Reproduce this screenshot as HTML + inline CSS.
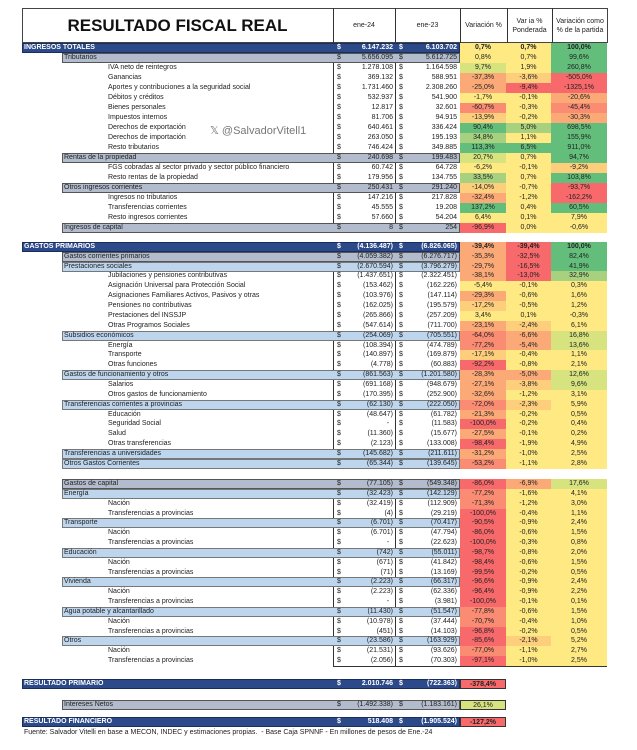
<!DOCTYPE html>
<html><head><meta charset="utf-8"><style>
body{margin:0;background:#fff;width:637px;height:750px;overflow:hidden;position:relative;font-family:"Liberation Sans",sans-serif;color:#222}
.r{position:absolute;left:0;width:637px;height:10px;font-size:7px;line-height:10px;white-space:nowrap}
.r span{position:absolute;top:0;height:10px}
.l0{left:24px}.l1{left:64px}.l2{left:108px}
.d1{left:337px}.a{right:244px;text-align:right}.d2{left:399px}.b{right:180px;text-align:right}
.p1{left:460px;width:46px;text-align:center}.p2{left:506px;width:45px;text-align:center}.p3{left:551px;width:56px;text-align:center}
.bg0{left:22px;width:438px;background:#2c4a8a;border:1px solid #1a2e5c;box-sizing:border-box}
.bg1{left:62px;width:398px;background:#b3bccd;border:1px solid #555;box-sizing:border-box}
.bg2{left:62px;width:398px;background:#bdd6ee;border:1px solid #777;box-sizing:border-box}
.w{color:#fff;font-weight:bold}
.g{background:#63be7b}.lg{background:#a8d17f}.gy{background:#d6e37f}.y{background:#fee983}.yo{background:#fdcf7d}.o{background:#fbaa77}.ro{background:#f98c72}.rd{background:#f8696b}
.vl{position:absolute;width:1px;background:#333}
.hb{position:absolute;left:22px;top:8px;width:586px;height:35px;border:1px solid #444;box-sizing:border-box}
.hd{position:absolute;top:8px;height:35px;font-size:7px;display:flex;align-items:center;justify-content:center;text-align:center;line-height:9px}
</style></head><body>
<div class="hb"></div>
<div style="position:absolute;left:22px;top:8px;width:311px;height:35px;display:flex;align-items:center;justify-content:center;font-size:17px;font-weight:bold;color:#111">RESULTADO FISCAL REAL</div>
<div class="hd" style="left:333px;width:62px">ene-24</div>
<div class="hd" style="left:395px;width:65px">ene-23</div>
<div class="hd" style="left:460px;width:47px">Variación %</div>
<div class="hd" style="left:507px;width:45px">Var ia %<br>Ponderada</div>
<div class="hd" style="left:552px;width:56px">Variación como<br>% de la partida</div>
<div class="vl" style="left:333px;top:8px;height:225px"></div>
<div class="vl" style="left:395px;top:8px;height:225px"></div>
<div class="vl" style="left:460px;top:8px;height:225px"></div>
<div class="vl" style="left:507px;top:8px;height:35px"></div>
<div class="vl" style="left:552px;top:8px;height:35px"></div>
<div class="vl" style="left:333px;top:242px;height:227px"></div>
<div class="vl" style="left:395px;top:242px;height:227px"></div>
<div class="vl" style="left:460px;top:242px;height:227px"></div>
<div class="vl" style="left:333px;top:479px;height:187px"></div>
<div class="vl" style="left:395px;top:479px;height:187px"></div>
<div class="vl" style="left:460px;top:479px;height:187px"></div>
<div style="position:absolute;left:210px;top:124px;font-size:11px;color:#777">𝕏 @SalvadorVitell1</div>

<div class="r" style="top:43px"><span class="bg0"></span><span class="l0 w">INGRESOS TOTALES</span><span class="d1 w">$</span><span class="a w">6.147.232</span><span class="d2 w">$</span><span class="b w">6.103.702</span><span class="p1 y"><b>0,7%</b></span><span class="p2 y"><b>0,7%</b></span><span class="p3 g"><b>100,0%</b></span></div>
<div class="r" style="top:53px"><span class="bg1"></span><span class="l1">Tributarios</span><span class="d1">$</span><span class="a">5.656.095</span><span class="d2">$</span><span class="b">5.612.725</span><span class="p1 y">0,8%</span><span class="p2 y">0,7%</span><span class="p3 g">99,6%</span></div>
<div class="r" style="top:63px"><span class="l2">IVA neto de reintegros</span><span class="d1">$</span><span class="a">1.278.108</span><span class="d2">$</span><span class="b">1.164.598</span><span class="p1 gy">9,7%</span><span class="p2 y">1,9%</span><span class="p3 g">260,8%</span></div>
<div class="r" style="top:73px"><span class="l2">Ganancias</span><span class="d1">$</span><span class="a">369.132</span><span class="d2">$</span><span class="b">588.951</span><span class="p1 o">-37,3%</span><span class="p2 yo">-3,6%</span><span class="p3 rd">-505,0%</span></div>
<div class="r" style="top:83px"><span class="l2">Aportes y contribuciones a la seguridad social</span><span class="d1">$</span><span class="a">1.731.460</span><span class="d2">$</span><span class="b">2.308.260</span><span class="p1 o">-25,0%</span><span class="p2 rd">-9,4%</span><span class="p3 rd">-1325,1%</span></div>
<div class="r" style="top:93px"><span class="l2">Débitos y créditos</span><span class="d1">$</span><span class="a">532.937</span><span class="d2">$</span><span class="b">541.900</span><span class="p1 y">-1,7%</span><span class="p2 y">-0,1%</span><span class="p3 o">-20,6%</span></div>
<div class="r" style="top:103px"><span class="l2">Bienes personales</span><span class="d1">$</span><span class="a">12.817</span><span class="d2">$</span><span class="b">32.601</span><span class="p1 ro">-60,7%</span><span class="p2 y">-0,3%</span><span class="p3 ro">-45,4%</span></div>
<div class="r" style="top:113px"><span class="l2">Impuestos internos</span><span class="d1">$</span><span class="a">81.706</span><span class="d2">$</span><span class="b">94.915</span><span class="p1 yo">-13,9%</span><span class="p2 y">-0,2%</span><span class="p3 o">-30,3%</span></div>
<div class="r" style="top:123px"><span class="l2">Derechos de exportación</span><span class="d1">$</span><span class="a">640.461</span><span class="d2">$</span><span class="b">336.424</span><span class="p1 g">90,4%</span><span class="p2 lg">5,0%</span><span class="p3 g">698,5%</span></div>
<div class="r" style="top:133px"><span class="l2">Derechos de importación</span><span class="d1">$</span><span class="a">263.050</span><span class="d2">$</span><span class="b">195.193</span><span class="p1 lg">34,8%</span><span class="p2 y">1,1%</span><span class="p3 g">155,9%</span></div>
<div class="r" style="top:143px"><span class="l2">Resto tributarios</span><span class="d1">$</span><span class="a">746.424</span><span class="d2">$</span><span class="b">349.885</span><span class="p1 g">113,3%</span><span class="p2 g">6,5%</span><span class="p3 g">911,0%</span></div>
<div class="r" style="top:153px"><span class="bg1"></span><span class="l1">Rentas de la propiedad</span><span class="d1">$</span><span class="a">240.698</span><span class="d2">$</span><span class="b">199.483</span><span class="p1 gy">20,7%</span><span class="p2 y">0,7%</span><span class="p3 g">94,7%</span></div>
<div class="r" style="top:163px"><span class="l2">FGS cobradas al sector privado y sector público financiero</span><span class="d1">$</span><span class="a">60.742</span><span class="d2">$</span><span class="b">64.728</span><span class="p1 y">-6,2%</span><span class="p2 y">-0,1%</span><span class="p3 yo">-9,2%</span></div>
<div class="r" style="top:173px"><span class="l2">Resto rentas de la propiedad</span><span class="d1">$</span><span class="a">179.956</span><span class="d2">$</span><span class="b">134.755</span><span class="p1 lg">33,5%</span><span class="p2 y">0,7%</span><span class="p3 g">103,8%</span></div>
<div class="r" style="top:183px"><span class="bg1"></span><span class="l1">Otros ingresos corrientes</span><span class="d1">$</span><span class="a">250.431</span><span class="d2">$</span><span class="b">291.240</span><span class="p1 yo">-14,0%</span><span class="p2 y">-0,7%</span><span class="p3 rd">-93,7%</span></div>
<div class="r" style="top:193px"><span class="l2">Ingresos no tributarios</span><span class="d1">$</span><span class="a">147.216</span><span class="d2">$</span><span class="b">217.828</span><span class="p1 o">-32,4%</span><span class="p2 y">-1,2%</span><span class="p3 rd">-162,2%</span></div>
<div class="r" style="top:203px"><span class="l2">Transferencias corrientes</span><span class="d1">$</span><span class="a">45.555</span><span class="d2">$</span><span class="b">19.208</span><span class="p1 g">137,2%</span><span class="p2 y">0,4%</span><span class="p3 g">60,5%</span></div>
<div class="r" style="top:213px"><span class="l2">Resto ingresos corrientes</span><span class="d1">$</span><span class="a">57.660</span><span class="d2">$</span><span class="b">54.204</span><span class="p1 y">6,4%</span><span class="p2 y">0,1%</span><span class="p3 y">7,9%</span></div>
<div class="r" style="top:223px"><span class="bg1"></span><span class="l1">Ingresos de capital</span><span class="d1">$</span><span class="a">8</span><span class="d2">$</span><span class="b">254</span><span class="p1 rd">-96,9%</span><span class="p2 y">0,0%</span><span class="p3 y">-0,6%</span></div>

<div class="r" style="top:242px"><span class="bg0"></span><span class="l0 w">GASTOS PRIMARIOS</span><span class="d1 w">$</span><span class="a w">(4.136.487)</span><span class="d2 w">$</span><span class="b w">(6.826.065)</span><span class="p1 o"><b>-39,4%</b></span><span class="p2 rd"><b>-39,4%</b></span><span class="p3 g"><b>100,0%</b></span></div>
<div class="r" style="top:252px"><span class="bg1"></span><span class="l1">Gastos corrientes primarios</span><span class="d1">$</span><span class="a">(4.059.382)</span><span class="d2">$</span><span class="b">(6.276.717)</span><span class="p1 o">-35,3%</span><span class="p2 rd">-32,5%</span><span class="p3 g">82,4%</span></div>
<div class="r" style="top:262px"><span class="bg2"></span><span class="l1">Prestaciones sociales</span><span class="d1">$</span><span class="a">(2.670.594)</span><span class="d2">$</span><span class="b">(3.796.279)</span><span class="p1 o">-29,7%</span><span class="p2 rd">-16,5%</span><span class="p3 g">41,9%</span></div>
<div class="r" style="top:271px"><span class="l2">Jubilaciones y pensiones contributivas</span><span class="d1">$</span><span class="a">(1.437.651)</span><span class="d2">$</span><span class="b">(2.322.451)</span><span class="p1 o">-38,1%</span><span class="p2 rd">-13,0%</span><span class="p3 lg">32,9%</span></div>
<div class="r" style="top:281px"><span class="l2">Asignación Universal para Protección Social</span><span class="d1">$</span><span class="a">(153.462)</span><span class="d2">$</span><span class="b">(162.226)</span><span class="p1 y">-5,4%</span><span class="p2 y">-0,1%</span><span class="p3 y">0,3%</span></div>
<div class="r" style="top:291px"><span class="l2">Asignaciones Familiares Activos, Pasivos y otras</span><span class="d1">$</span><span class="a">(103.976)</span><span class="d2">$</span><span class="b">(147.114)</span><span class="p1 o">-29,3%</span><span class="p2 y">-0,6%</span><span class="p3 y">1,6%</span></div>
<div class="r" style="top:301px"><span class="l2">Pensiones no contributivas</span><span class="d1">$</span><span class="a">(162.025)</span><span class="d2">$</span><span class="b">(195.579)</span><span class="p1 yo">-17,2%</span><span class="p2 y">-0,5%</span><span class="p3 y">1,2%</span></div>
<div class="r" style="top:311px"><span class="l2">Prestaciones del INSSJP</span><span class="d1">$</span><span class="a">(265.866)</span><span class="d2">$</span><span class="b">(257.209)</span><span class="p1 y">3,4%</span><span class="p2 y">0,1%</span><span class="p3 y">-0,3%</span></div>
<div class="r" style="top:321px"><span class="l2">Otras Programos Sociales</span><span class="d1">$</span><span class="a">(547.614)</span><span class="d2">$</span><span class="b">(711.700)</span><span class="p1 o">-23,1%</span><span class="p2 yo">-2,4%</span><span class="p3 y">6,1%</span></div>
<div class="r" style="top:331px"><span class="bg2"></span><span class="l1">Subsidios económicos</span><span class="d1">$</span><span class="a">(254.069)</span><span class="d2">$</span><span class="b">(705.551)</span><span class="p1 ro">-64,0%</span><span class="p2 o">-6,6%</span><span class="p3 gy">16,8%</span></div>
<div class="r" style="top:341px"><span class="l2">Energía</span><span class="d1">$</span><span class="a">(108.394)</span><span class="d2">$</span><span class="b">(474.789)</span><span class="p1 ro">-77,2%</span><span class="p2 o">-5,4%</span><span class="p3 gy">13,6%</span></div>
<div class="r" style="top:350px"><span class="l2">Transporte</span><span class="d1">$</span><span class="a">(140.897)</span><span class="d2">$</span><span class="b">(169.879)</span><span class="p1 yo">-17,1%</span><span class="p2 y">-0,4%</span><span class="p3 y">1,1%</span></div>
<div class="r" style="top:360px"><span class="l2">Otras funciones</span><span class="d1">$</span><span class="a">(4.778)</span><span class="d2">$</span><span class="b">(60.883)</span><span class="p1 rd">-92,2%</span><span class="p2 y">-0,8%</span><span class="p3 y">2,1%</span></div>
<div class="r" style="top:370px"><span class="bg2"></span><span class="l1">Gastos de funcionamiento y otros</span><span class="d1">$</span><span class="a">(861.563)</span><span class="d2">$</span><span class="b">(1.201.580)</span><span class="p1 o">-28,3%</span><span class="p2 o">-5,0%</span><span class="p3 gy">12,6%</span></div>
<div class="r" style="top:380px"><span class="l2">Salarios</span><span class="d1">$</span><span class="a">(691.168)</span><span class="d2">$</span><span class="b">(948.679)</span><span class="p1 o">-27,1%</span><span class="p2 yo">-3,8%</span><span class="p3 gy">9,6%</span></div>
<div class="r" style="top:390px"><span class="l2">Otros gastos de funcionamiento</span><span class="d1">$</span><span class="a">(170.395)</span><span class="d2">$</span><span class="b">(252.900)</span><span class="p1 o">-32,6%</span><span class="p2 y">-1,2%</span><span class="p3 y">3,1%</span></div>
<div class="r" style="top:400px"><span class="bg2"></span><span class="l1">Transferencias corrientes a provincias</span><span class="d1">$</span><span class="a">(62.130)</span><span class="d2">$</span><span class="b">(222.050)</span><span class="p1 ro">-72,0%</span><span class="p2 yo">-2,3%</span><span class="p3 y">5,9%</span></div>
<div class="r" style="top:410px"><span class="l2">Educación</span><span class="d1">$</span><span class="a">(48.647)</span><span class="d2">$</span><span class="b">(61.782)</span><span class="p1 o">-21,3%</span><span class="p2 y">-0,2%</span><span class="p3 y">0,5%</span></div>
<div class="r" style="top:419px"><span class="l2">Seguridad Social</span><span class="d1">$</span><span class="a">-&nbsp;&nbsp;</span><span class="d2">$</span><span class="b">(11.583)</span><span class="p1 rd">-100,0%</span><span class="p2 y">-0,2%</span><span class="p3 y">0,4%</span></div>
<div class="r" style="top:429px"><span class="l2">Salud</span><span class="d1">$</span><span class="a">(11.360)</span><span class="d2">$</span><span class="b">(15.677)</span><span class="p1 o">-27,5%</span><span class="p2 y">-0,1%</span><span class="p3 y">0,2%</span></div>
<div class="r" style="top:439px"><span class="l2">Otras transferencias</span><span class="d1">$</span><span class="a">(2.123)</span><span class="d2">$</span><span class="b">(133.008)</span><span class="p1 rd">-98,4%</span><span class="p2 y">-1,9%</span><span class="p3 y">4,9%</span></div>
<div class="r" style="top:449px"><span class="bg2"></span><span class="l1">Transferencias a universidades</span><span class="d1">$</span><span class="a">(145.682)</span><span class="d2">$</span><span class="b">(211.611)</span><span class="p1 o">-31,2%</span><span class="p2 y">-1,0%</span><span class="p3 y">2,5%</span></div>
<div class="r" style="top:459px"><span class="bg2"></span><span class="l1">Otros Gastos Corrientes</span><span class="d1">$</span><span class="a">(65.344)</span><span class="d2">$</span><span class="b">(139.645)</span><span class="p1 ro">-53,2%</span><span class="p2 y">-1,1%</span><span class="p3 y">2,8%</span></div>

<div class="r" style="top:479px"><span class="bg1"></span><span class="l1">Gastos de capital</span><span class="d1">$</span><span class="a">(77.105)</span><span class="d2">$</span><span class="b">(549.348)</span><span class="p1 rd">-86,0%</span><span class="p2 o">-6,9%</span><span class="p3 gy">17,6%</span></div>
<div class="r" style="top:489px"><span class="bg2"></span><span class="l1">Energía</span><span class="d1">$</span><span class="a">(32.423)</span><span class="d2">$</span><span class="b">(142.129)</span><span class="p1 ro">-77,2%</span><span class="p2 y">-1,6%</span><span class="p3 y">4,1%</span></div>
<div class="r" style="top:499px"><span class="l2">Nación</span><span class="d1">$</span><span class="a">(32.419)</span><span class="d2">$</span><span class="b">(112.909)</span><span class="p1 ro">-71,3%</span><span class="p2 y">-1,2%</span><span class="p3 y">3,0%</span></div>
<div class="r" style="top:509px"><span class="l2">Transferencias a provincias</span><span class="d1">$</span><span class="a">(4)</span><span class="d2">$</span><span class="b">(29.219)</span><span class="p1 rd">-100,0%</span><span class="p2 y">-0,4%</span><span class="p3 y">1,1%</span></div>
<div class="r" style="top:518px"><span class="bg2"></span><span class="l1">Transporte</span><span class="d1">$</span><span class="a">(6.701)</span><span class="d2">$</span><span class="b">(70.417)</span><span class="p1 rd">-90,5%</span><span class="p2 y">-0,9%</span><span class="p3 y">2,4%</span></div>
<div class="r" style="top:528px"><span class="l2">Nación</span><span class="d1">$</span><span class="a">(6.701)</span><span class="d2">$</span><span class="b">(47.794)</span><span class="p1 rd">-86,0%</span><span class="p2 y">-0,6%</span><span class="p3 y">1,5%</span></div>
<div class="r" style="top:538px"><span class="l2">Transferencias a provincias</span><span class="d1">$</span><span class="a">-&nbsp;&nbsp;</span><span class="d2">$</span><span class="b">(22.623)</span><span class="p1 rd">-100,0%</span><span class="p2 y">-0,3%</span><span class="p3 y">0,8%</span></div>
<div class="r" style="top:548px"><span class="bg2"></span><span class="l1">Educación</span><span class="d1">$</span><span class="a">(742)</span><span class="d2">$</span><span class="b">(55.011)</span><span class="p1 rd">-98,7%</span><span class="p2 y">-0,8%</span><span class="p3 y">2,0%</span></div>
<div class="r" style="top:558px"><span class="l2">Nación</span><span class="d1">$</span><span class="a">(671)</span><span class="d2">$</span><span class="b">(41.842)</span><span class="p1 rd">-98,4%</span><span class="p2 y">-0,6%</span><span class="p3 y">1,5%</span></div>
<div class="r" style="top:568px"><span class="l2">Transferencias a provincias</span><span class="d1">$</span><span class="a">(71)</span><span class="d2">$</span><span class="b">(13.169)</span><span class="p1 rd">-99,5%</span><span class="p2 y">-0,2%</span><span class="p3 y">0,5%</span></div>
<div class="r" style="top:577px"><span class="bg2"></span><span class="l1">Vivienda</span><span class="d1">$</span><span class="a">(2.223)</span><span class="d2">$</span><span class="b">(66.317)</span><span class="p1 rd">-96,6%</span><span class="p2 y">-0,9%</span><span class="p3 y">2,4%</span></div>
<div class="r" style="top:587px"><span class="l2">Nación</span><span class="d1">$</span><span class="a">(2.223)</span><span class="d2">$</span><span class="b">(62.336)</span><span class="p1 rd">-96,4%</span><span class="p2 y">-0,9%</span><span class="p3 y">2,2%</span></div>
<div class="r" style="top:597px"><span class="l2">Transferencias a provincias</span><span class="d1">$</span><span class="a">-&nbsp;&nbsp;</span><span class="d2">$</span><span class="b">(3.981)</span><span class="p1 rd">-100,0%</span><span class="p2 y">-0,1%</span><span class="p3 y">0,1%</span></div>
<div class="r" style="top:607px"><span class="bg2"></span><span class="l1">Agua potable y alcantarillado</span><span class="d1">$</span><span class="a">(11.430)</span><span class="d2">$</span><span class="b">(51.547)</span><span class="p1 ro">-77,8%</span><span class="p2 y">-0,6%</span><span class="p3 y">1,5%</span></div>
<div class="r" style="top:617px"><span class="l2">Nación</span><span class="d1">$</span><span class="a">(10.978)</span><span class="d2">$</span><span class="b">(37.444)</span><span class="p1 ro">-70,7%</span><span class="p2 y">-0,4%</span><span class="p3 y">1,0%</span></div>
<div class="r" style="top:627px"><span class="l2">Transferencias a provincias</span><span class="d1">$</span><span class="a">(451)</span><span class="d2">$</span><span class="b">(14.103)</span><span class="p1 rd">-96,8%</span><span class="p2 y">-0,2%</span><span class="p3 y">0,5%</span></div>
<div class="r" style="top:636px"><span class="bg2"></span><span class="l1">Otros</span><span class="d1">$</span><span class="a">(23.586)</span><span class="d2">$</span><span class="b">(163.929)</span><span class="p1 rd">-85,6%</span><span class="p2 yo">-2,1%</span><span class="p3 y">5,2%</span></div>
<div class="r" style="top:646px"><span class="l2">Nación</span><span class="d1">$</span><span class="a">(21.531)</span><span class="d2">$</span><span class="b">(93.626)</span><span class="p1 ro">-77,0%</span><span class="p2 y">-1,1%</span><span class="p3 y">2,7%</span></div>
<div class="r" style="top:656px"><span class="l2">Transferencias a provincias</span><span class="d1">$</span><span class="a">(2.056)</span><span class="d2">$</span><span class="b">(70.303)</span><span class="p1 rd">-97,1%</span><span class="p2 y">-1,0%</span><span class="p3 y">2,5%</span></div>
<div style="position:absolute;left:333px;top:666px;width:274px;height:1px;background:#333"></div>

<div class="r" style="top:679px"><span class="bg0"></span><span class="l0 w">RESULTADO PRIMARIO</span><span class="d1 w">$</span><span class="a w">2.010.746</span><span class="d2 w">$</span><span class="b w">(722.363)</span><span class="p1 rd" style="border:1px solid #333;box-sizing:border-box"><b>-378,4%</b></span></div>
<div class="r" style="top:700px"><span class="bg1"></span><span class="l1">Intereses Netos</span><span class="d1">$</span><span class="a">(1.492.338)</span><span class="d2">$</span><span class="b">(1.183.161)</span><span class="p1 gy" style="border:1px solid #333;box-sizing:border-box">26,1%</span></div>
<div class="r" style="top:717px"><span class="bg0"></span><span class="l0 w">RESULTADO FINANCIERO</span><span class="d1 w">$</span><span class="a w">518.408</span><span class="d2 w">$</span><span class="b w">(1.905.524)</span><span class="p1 rd" style="border:1px solid #333;box-sizing:border-box"><b>-127,2%</b></span></div>
<div style="position:absolute;left:24px;top:729px;font-size:7px;color:#222">Fuente: Salvador Vitelli en base a MECON, INDEC y estimaciones propias.&nbsp; - Base Caja SPNNF - En millones de pesos de Ene.-24</div>
</body></html>
